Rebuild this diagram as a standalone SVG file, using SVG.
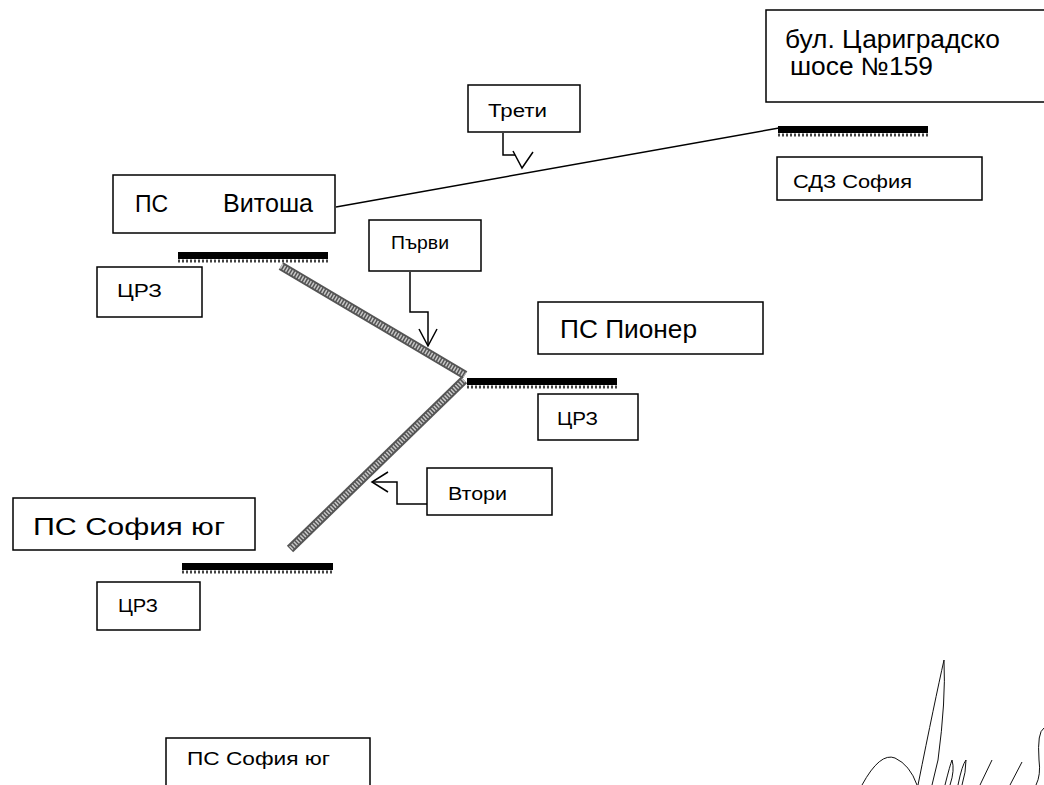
<svg xmlns="http://www.w3.org/2000/svg" width="1044" height="785" viewBox="0 0 1044 785">
<style>
.box{fill:#fff;stroke:#000;stroke-width:1.5}
.big{font-family:"Liberation Sans",Arial,sans-serif;font-size:25px;fill:#000}
.sm{font-family:"Liberation Sans",Arial,sans-serif;font-size:18px;fill:#000}
.bus{fill:#000}
.busdot{stroke:#444;stroke-width:3;stroke-dasharray:2 2;fill:none}
.feed{stroke:#555;stroke-width:9;fill:none}
.feedh{stroke:#c8c8c8;stroke-width:5;stroke-dasharray:1.5 1.5;fill:none}
.thin{stroke:#000;stroke-width:1.5;fill:none}
.sig{stroke:#111;stroke-width:1;fill:none}
</style>
<rect width="1044" height="785" fill="#fff"/>
<g id="connectors">
<line class="thin" x1="336" y1="207" x2="779" y2="128"/>
<line class="feed" x1="281" y1="266" x2="465" y2="375"/>
<line class="feedh" x1="281" y1="266" x2="465" y2="375"/>
<line class="feed" x1="464" y1="380" x2="290" y2="549"/>
<line class="feedh" x1="464" y1="380" x2="290" y2="549"/>
<polyline class="thin" points="503,133 503,155 515,155"/>
<polyline class="thin" points="513,151 522,168 533,152"/>
<polyline class="thin" points="410,272 410,312 428,312 428,345"/>
<polyline class="thin" points="419,329 428,346 437,329"/>
<polyline class="thin" points="427,504 397,504 397,482 372,482"/>
<polyline class="thin" points="388,472 372,482 388,492"/>
</g>
<g id="bus-sdz"><rect class="bus" x="778" y="126" width="150" height="7"/><line class="busdot" x1="778" y1="135" x2="928" y2="135"/></g>
<g id="bus-vitosha"><rect class="bus" x="178" y="252" width="150" height="7"/><line class="busdot" x1="178" y1="261" x2="328" y2="261"/></g>
<g id="bus-pioner"><rect class="bus" x="467" y="378" width="150" height="7"/><line class="busdot" x1="467" y1="387" x2="617" y2="387"/></g>
<g id="bus-sofiayug"><rect class="bus" x="182" y="563" width="151" height="7"/><line class="busdot" x1="182" y1="572" x2="333" y2="572"/></g>
<g id="node-tsarigradsko"><rect class="box" x="766" y="10" width="284" height="92"/><text class="big" x="785" y="48" textLength="215" lengthAdjust="spacingAndGlyphs">бул. Цариградско</text><text class="big" x="790" y="75" textLength="143" lengthAdjust="spacingAndGlyphs">шосе №159</text></g>
<g id="node-sdz"><rect class="box" x="777" y="157" width="205" height="43"/><text class="sm" x="793" y="188" textLength="119" lengthAdjust="spacingAndGlyphs">СДЗ София</text></g>
<g id="node-treti"><rect class="box" x="468" y="85" width="112" height="47"/><text class="sm" x="488" y="117" textLength="59" lengthAdjust="spacingAndGlyphs">Трети</text></g>
<g id="node-vitosha"><rect class="box" x="113" y="175" width="222" height="58"/><text class="big" x="135" y="212" style="font-size:23px">ПС</text><text class="big" x="223" y="212" textLength="90" lengthAdjust="spacingAndGlyphs">Витоша</text></g>
<g id="node-crz1"><rect class="box" x="97" y="267" width="105" height="50"/><text class="sm" x="117" y="297" textLength="45" lengthAdjust="spacingAndGlyphs">ЦРЗ</text></g>
<g id="node-parvi"><rect class="box" x="369" y="220" width="112" height="51"/><text class="sm" x="391" y="249" textLength="58" lengthAdjust="spacingAndGlyphs">Първи</text></g>
<g id="node-pioner"><rect class="box" x="538" y="302" width="225" height="52"/><text class="big" x="560" y="338" textLength="137" lengthAdjust="spacingAndGlyphs">ПС Пионер</text></g>
<g id="node-crz2"><rect class="box" x="538" y="394" width="100" height="46"/><text class="sm" x="557" y="425" textLength="41" lengthAdjust="spacingAndGlyphs">ЦРЗ</text></g>
<g id="node-vtori"><rect class="box" x="427" y="468" width="125" height="47"/><text class="sm" x="448" y="500" textLength="59" lengthAdjust="spacingAndGlyphs">Втори</text></g>
<g id="node-sofiayug"><rect class="box" x="13" y="498" width="242" height="52"/><text class="big" x="33" y="535" textLength="192" lengthAdjust="spacingAndGlyphs" style="font-size:24px">ПС София юг</text></g>
<g id="node-crz3"><rect class="box" x="97" y="582" width="103" height="48"/><text class="sm" x="118" y="612" textLength="40" lengthAdjust="spacingAndGlyphs">ЦРЗ</text></g>
<g id="node-sofiayug2"><rect class="box" x="166" y="738" width="204" height="60"/><text class="sm" x="187" y="765" textLength="143" lengthAdjust="spacingAndGlyphs">ПС София юг</text></g>
<g id="signature">
<path class="sig" d="M862,785 Q880,752 895,758 Q910,765 917,785"/>
<path class="sig" d="M918,785 Q935,700 944,660 Q946,700 938,760 L932,785"/>
<path class="sig" d="M945,785 Q950,765 952,760 Q955,770 950,785"/>
<path class="sig" d="M958,785 Q962,765 966,760 Q966,772 962,785"/>
<path class="sig" d="M980,785 L992,760"/>
<path class="sig" d="M1010,785 L1022,762"/>
<path class="sig" d="M1044,728 Q1037,732 1039,760 Q1041,775 1036,785"/>
</g>
</svg>
